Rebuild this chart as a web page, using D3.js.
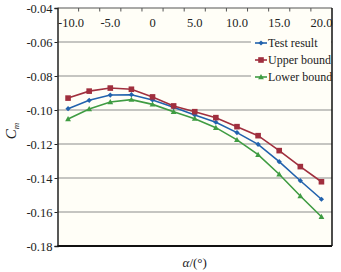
<!DOCTYPE html>
<html>
<head>
<meta charset="utf-8">
<script src="https://d3js.org/d3.v7.min.js"></script>
<style>
  body { margin: 0; background: #fff; }
</style>
</head>
<body>
<div id="chart"></div>
<script>
// angle of attack (deg) and Cm series
var alphas = [-10, -7.5, -5, -2.5, 0, 2.5, 5, 7.5, 10, 12.5, 15, 17.5, 20];
var testResult = [-0.0992, -0.0943, -0.0912, -0.0910, -0.0941, -0.0984, -0.1029, -0.1072, -0.1133, -0.1202, -0.1304, -0.1416, -0.1525];
var upperBound = [-0.0930, -0.0889, -0.0871, -0.0878, -0.0923, -0.0976, -0.1010, -0.1045, -0.1098, -0.1151, -0.1239, -0.1333, -0.1422];
var lowerBound = [-0.1053, -0.0994, -0.0953, -0.0939, -0.0967, -0.1010, -0.1051, -0.1104, -0.1176, -0.1263, -0.1378, -0.1506, -0.1628];
var xLabels = ["-10.0", "-5.0", "0", "5.0", "10.0", "15.0", "20.0"];
var yTicks = [-0.04, -0.06, -0.08, -0.10, -0.12, -0.14, -0.16, -0.18];

var series = [
  {name: "Test result", values: testResult, color: "#2162ad", marker: "diamond"},
  {name: "Upper bound", values: upperBound, color: "#a02f3e", marker: "square"},
  {name: "Lower bound", values: lowerBound, color: "#3f9c42", marker: "triangle"}
];

var W = 341, H = 272;
var margin = {top: 8, right: 9, bottom: 26, left: 57.5};
var pw = W - margin.left - margin.right,
    ph = H - margin.top - margin.bottom;

var svg = d3.select("#chart").append("svg")
  .attr("width", W).attr("height", H)
  .style("font-family", "'Liberation Serif'");

var g = svg.append("g")
  .attr("transform", "translate(" + margin.left + "," + margin.top + ")");

function serif(sel, size) {
  return sel.style("font-family", "'Liberation Serif'").style("font-size", size + "px").attr("fill", "#222");
}

var x = d3.scalePoint().domain(alphas).range([0, pw]).padding(0.5);
var y = d3.scaleLinear().domain([-0.18, -0.04]).range([ph, 0]);

// plot background
g.append("rect").attr("width", pw).attr("height", ph).attr("fill", "#fffef7");

// gridlines
g.selectAll(".grid").data(yTicks.slice(1, -1)).enter().append("line")
  .attr("x1", 0).attr("x2", pw)
  .attr("y1", function(d) { return y(d); }).attr("y2", function(d) { return y(d); })
  .attr("stroke", "#8c8c8c").attr("stroke-width", 1.2);

// top category axis (ticks between categories, pointing into the plot)
var step = x.step();
var tickPos = d3.range(1, alphas.length).map(function(i) { return i * step; });
g.append("line").attr("x1", 0).attr("x2", pw).attr("y1", 0).attr("y2", 0)
  .attr("stroke", "#555").attr("stroke-width", 1.2);
g.selectAll(".xtick").data(tickPos).enter().append("line")
  .attr("x1", function(d) { return d; }).attr("x2", function(d) { return d; })
  .attr("y1", 0).attr("y2", 3.5)
  .attr("stroke", "#555");
serif(g.selectAll(".xlab").data(xLabels).enter().append("text")
  .attr("x", function(d, i) { return Math.max(x(alphas[i * 2]), 13.5); })
  .attr("y", 18.5)
  .attr("text-anchor", "middle"), 12.5)
  .text(function(d) { return d; });

// y axis
var yAxis = g.append("g").call(d3.axisLeft(y).tickValues(yTicks).tickSize(3).tickPadding(2));
yAxis.attr("font-family", "Liberation Serif").attr("font-size", 12.5);
yAxis.select(".domain").attr("stroke", "#222").attr("stroke-width", 1.5);
yAxis.selectAll(".tick line").attr("stroke", "#222");
serif(yAxis.selectAll(".tick text"), 12.5)
  .text(function(d) { return d3.format(".2f")(d).replace("\u2212", "-"); });

// frame bottom and right
g.append("line").attr("x1", 0).attr("x2", pw).attr("y1", ph).attr("y2", ph)
  .attr("stroke", "#111").attr("stroke-width", 2);
g.append("line").attr("x1", pw).attr("x2", pw).attr("y1", 0).attr("y2", ph)
  .attr("stroke", "#111").attr("stroke-width", 1.5);

// markers
function drawMarker(sel, type, color) {
  if (type === "square") {
    sel.append("rect").attr("x", -2.8).attr("y", -2.8).attr("width", 5.6).attr("height", 5.6).attr("fill", color);
  } else if (type === "diamond") {
    sel.append("path").attr("d", "M0,-2.6L2.6,0L0,2.6L-2.6,0Z").attr("fill", color);
  } else {
    sel.append("path").attr("d", "M0,-3L2.9,2.2L-2.9,2.2Z").attr("fill", color);
  }
}

var line = d3.line()
  .x(function(d, i) { return x(alphas[i]); })
  .y(function(d) { return y(d); });

series.forEach(function(s) {
  g.append("path").datum(s.values)
    .attr("d", line).attr("fill", "none")
    .attr("stroke", s.color).attr("stroke-width", 1.6);
  s.values.forEach(function(v, i) {
    var m = g.append("g").attr("transform", "translate(" + x(alphas[i]) + "," + y(v) + ")");
    drawMarker(m, s.marker, s.color);
  });
});

// legend
var lg = g.append("g").attr("transform", "translate(" + (pw - 81) + ",27)");
lg.append("rect").attr("x", 0).attr("y", 0).attr("width", 80).attr("height", 51).attr("fill", "#fffef7");
series.forEach(function(s, i) {
  var row = lg.append("g").attr("transform", "translate(0," + (8 + i * 17) + ")");
  row.append("line").attr("x1", 4).attr("x2", 16).attr("y1", 0).attr("y2", 0)
    .attr("stroke", s.color).attr("stroke-width", 1.6);
  var m = row.append("g").attr("transform", "translate(10,0)");
  drawMarker(m, s.marker, s.color);
  serif(row.append("text").attr("x", 17).attr("y", 4.3), 12).text(s.name);
});

// axis titles
var yt = serif(svg.append("text")
  .attr("transform", "translate(16,131) rotate(-90)")
  .attr("text-anchor", "middle"), 15);
yt.append("tspan").style("font-style", "italic").text("C");
yt.append("tspan").attr("dy", 3).style("font-size", "9px").style("font-style", "italic").text("m");

var xt = serif(svg.append("text")
  .attr("x", margin.left + pw / 2).attr("y", 267)
  .attr("text-anchor", "middle"), 13);
xt.append("tspan").style("font-style", "italic").text("α");
xt.append("tspan").text("/(°)");
</script>
</body>
</html>
